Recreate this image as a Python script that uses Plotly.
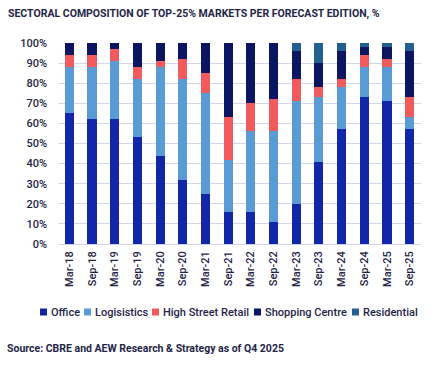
import plotly.graph_objects as go

categories = ["Mar-18", "Sep-18", "Mar-19", "Sep-19", "Mar-20", "Sep-20", "Mar-21", "Sep-21",
              "Mar-22", "Sep-22", "Mar-23", "Sep-23", "Mar-24", "Sep-24", "Mar-25", "Sep-25"]
office = [65, 62, 62, 53, 44, 32, 25, 16, 16, 11, 20, 41, 57, 73, 71, 57]
logistics = [23, 26, 29, 29, 44, 50, 50, 26, 40, 45, 51, 32, 21, 15, 17, 6]
high_street = [6, 6, 6, 6, 3, 10, 10, 21, 14, 16, 11, 5, 4, 6, 4, 10]
shopping = [6, 6, 3, 12, 9, 8, 15, 37, 30, 28, 14, 12, 14, 4, 6, 23]
residential = [0, 0, 0, 0, 0, 0, 0, 0, 0, 0, 4, 10, 4, 2, 2, 4]
y_ticks = [0, 10, 20, 30, 40, 50, 60, 70, 80, 90, 100]
y_tick_labels = [f"{v}%" for v in y_ticks]

series = [
    ("Office", office, "#1226A8"),
    ("Logisistics", logistics, "#5B9BD5"),
    ("High Street Retail", high_street, "#F15B5E"),
    ("Shopping Centre", shopping, "#0C1562"),
    ("Residential", residential, "#22608F"),
]

FONT = "Roboto, Liberation Sans, sans-serif"
TEXT = "#1F2548"

# plot area in pixels
L, R, T, B = 58, 421, 43, 244
W, H = R - L, B - T

fig = go.Figure()
for name, vals, color in series:
    fig.add_trace(go.Bar(x=categories, y=vals, name=name, marker_color=color,
                         marker_line_width=0, showlegend=False))

# custom compact legend (square + label)
legend_x = [40, 84, 152, 254, 352]
legend_y = 312
shapes = []
annotations = []
for (name, _, color), px in zip(series, legend_x):
    shapes.append(dict(type="rect", xref="paper", yref="paper",
                       x0=(px - L) / W, x1=(px + 7 - L) / W,
                       y0=(B - legend_y - 3.5) / H, y1=(B - legend_y + 3.5) / H,
                       fillcolor=color, line=dict(width=0)))
    annotations.append(dict(text=name, xref="paper", yref="paper",
                            x=(px + 9 - L) / W, y=(B - legend_y) / H,
                            xanchor="left", yanchor="middle", showarrow=False,
                            font=dict(size=11, color=TEXT, family=FONT, weight=500)))

annotations.append(dict(text="<b>Source: CBRE and AEW Research & Strategy as of Q4 2025</b>",
                        xref="paper", yref="paper", x=(5 - L) / W, y=(B - 348) / H,
                        xanchor="left", yanchor="middle", showarrow=False,
                        font=dict(size=10.5, color=TEXT, family=FONT)))

fig.update_layout(
    barmode="stack",
    bargap=0.6,
    width=434, height=366,
    margin=dict(l=L, r=434 - R, t=T, b=366 - B, autoexpand=False),
    paper_bgcolor="white", plot_bgcolor="white",
    font=dict(family=FONT, color=TEXT, size=11),
    showlegend=False,
    title=dict(text="<b>SECTORAL COMPOSITION OF TOP-25% MARKETS PER FORECAST EDITION, %</b>",
               x=8 / 434, xref="container", xanchor="left",
               y=1 - 13 / 366, yref="container", yanchor="middle",
               font=dict(size=10.5, color=TEXT, family=FONT)),
    xaxis=dict(tickangle=-90, tickfont=dict(size=11, color=TEXT, weight=500), showgrid=False,
               showline=False, ticks="", automargin=False, ticklabelstandoff=4),
    yaxis=dict(range=[0, 100], tickvals=y_ticks, ticktext=y_tick_labels,
               showgrid=True, gridcolor="#D3D8EF", gridwidth=1,
               zeroline=True, zerolinecolor="#D3D8EF", zerolinewidth=1,
               tickfont=dict(size=11, color=TEXT, weight=500), ticks="", ticklabelstandoff=10,
               automargin=False),
    shapes=shapes,
    annotations=annotations,
)

fig.write_html("out.html", config={"displayModeBar": False},
               post_script="document.body.style.margin='0';")
